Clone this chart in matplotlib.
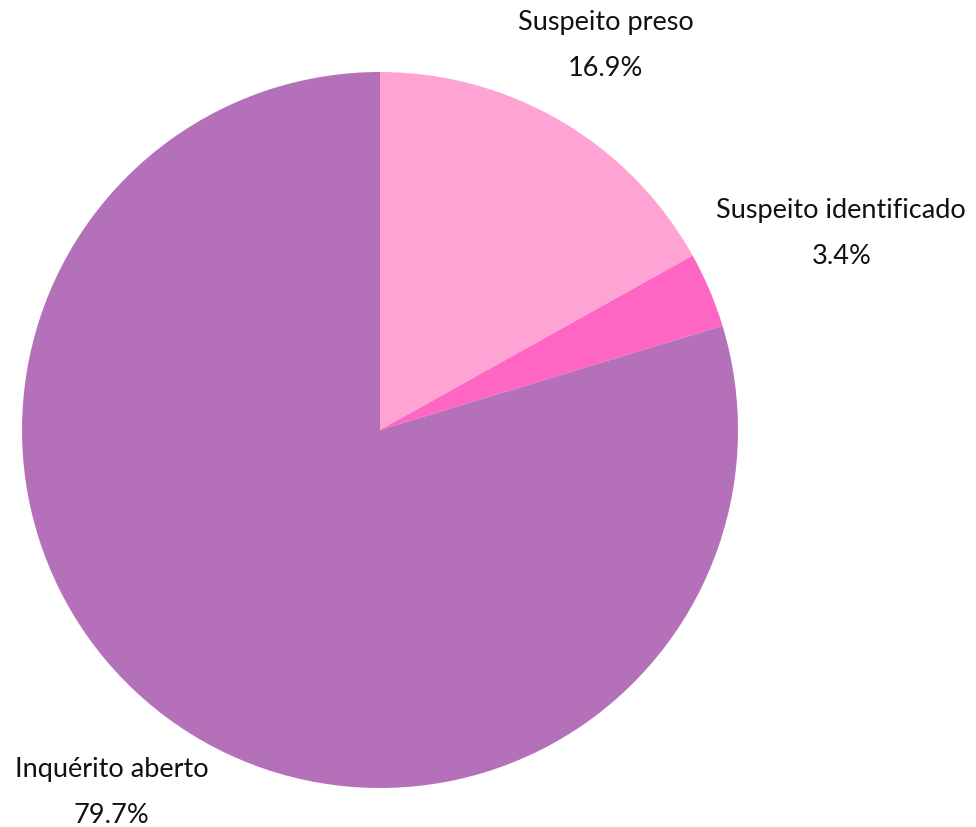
import numpy as np
import matplotlib
matplotlib.use("Agg")
import matplotlib.pyplot as plt

plt.rcParams['font.family'] = ['Lato', 'DejaVu Sans']

# Situação dos inquéritos
categorias = ["Suspeito preso", "Suspeito identificado", "Inquérito aberto"]
percentuais = [16.9, 3.4, 79.7]
cores = ["#FFA3D5", "#FF66C4", "#B471BA"]
# distância radial de cada rótulo (em raios)
dist_rotulo = [1.245, 1.40, 1.26]

fig = plt.figure(figsize=(9.76, 8.27), dpi=100)
W, H = 976, 827
cx, cy, r = 380, 430, 358
ax = fig.add_axes([(cx - r) / W, (H - cy - r) / H, 2 * r / W, 2 * r / H])

wedges, _ = ax.pie(percentuais, colors=cores, startangle=90, counterclock=False,
                   radius=1, wedgeprops=dict(linewidth=0))
ax.set_xlim(-1, 1)
ax.set_ylim(-1, 1)
ax.set_aspect('equal')
ax.axis('off')

for w, nome, p, d in zip(wedges, categorias, percentuais, dist_rotulo):
    ang = np.deg2rad((w.theta1 + w.theta2) / 2)
    x, y = d * np.cos(ang), d * np.sin(ang)
    ax.text(x, y, f"{nome}\n{p}%", ha='center', va='center', fontsize=19.5,
            linespacing=2.05, color='#111111', clip_on=False)

fig.savefig("out.png", dpi=100, facecolor='white')
